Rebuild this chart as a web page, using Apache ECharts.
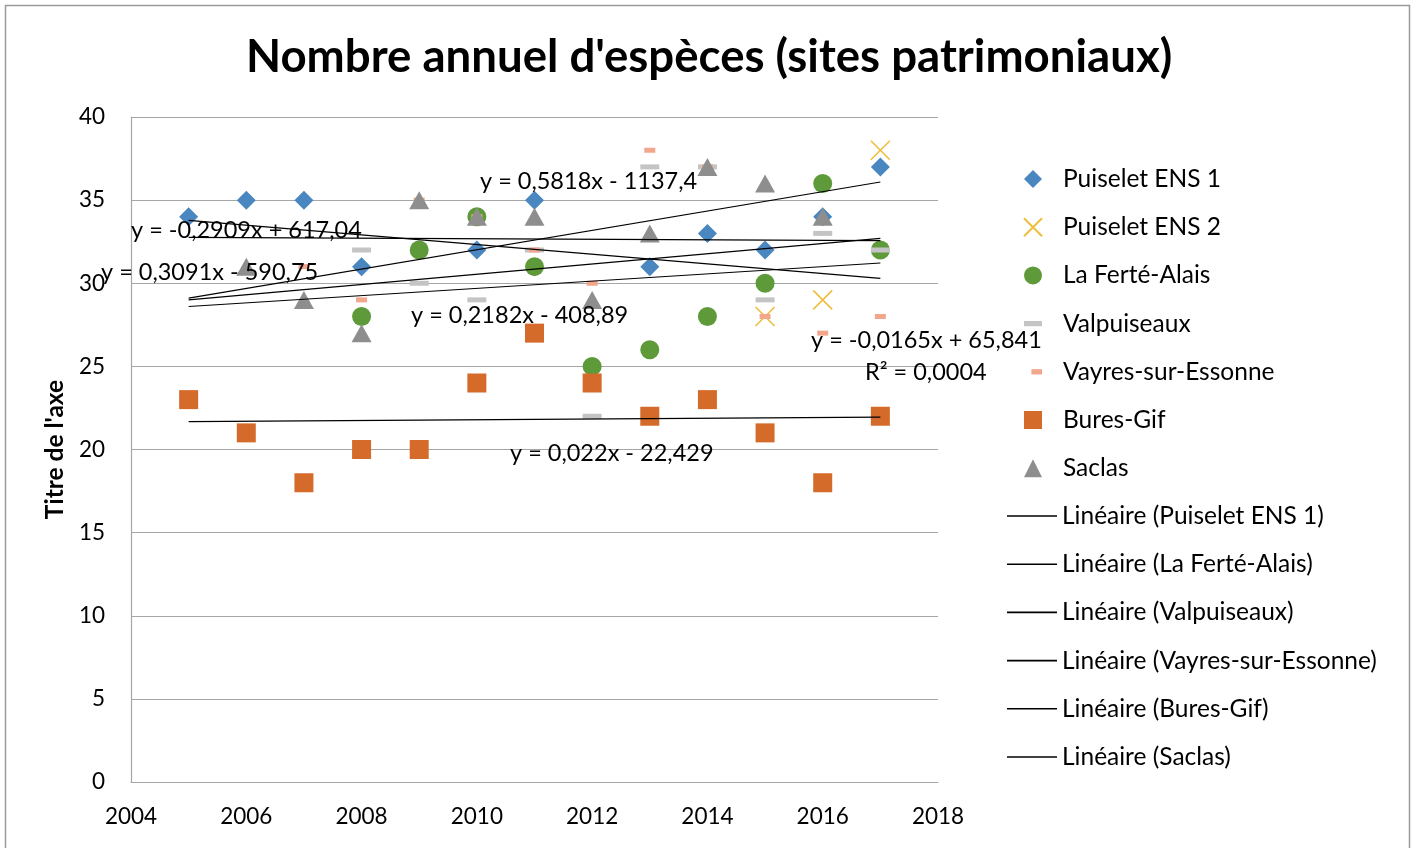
<!DOCTYPE html>
<html>
<head>
<meta charset="utf-8">
<script src="https://cdn.jsdelivr.net/npm/echarts@6/dist/echarts.min.js"></script>
<style>
html,body{margin:0;padding:0;background:#fff;}
#chart{width:1421px;height:848px;}
</style>
</head>
<body>
<div id="chart"></div>
<script>
var years = [2005,2006,2007,2008,2009,2010,2011,2012,2013,2014,2015,2016,2017];
var puiselet1 = [34,35,35,31,null,32,35,null,31,33,32,34,37];
var puiselet2 = [null,null,null,null,null,null,null,null,null,null,28,29,38];
var laFerte = [null,null,null,28,32,34,31,25,26,28,30,36,32];
var valpuiseaux = [null,null,null,32,30,29,32,22,37,37,29,33,32];
var vayres = [null,null,31,29,35,34,32,30,38,37,28,27,28];
var buresGif = [23,21,18,20,20,24,27,24,22,23,21,18,22];
var saclas = [null,31,29,27,35,34,34,29,33,37,36,34,null];

// coefficients des courbes de tendance (pente, ordonnée)
var trendNames = ["Puiselet ENS 1","La Ferté-Alais","Valpuiseaux","Vayres-sur-Essonne","Bures-Gif","Saclas"];
var trendSlope = [-0.0165, 0.2182, 0.3091, -0.2909, 0.022, 0.5818];
var trendIntercept = [65.841, -408.89, -590.75, 617.04, -22.429, -1137.4];
var trendRange = [2005, 2017];

var eqTexts = ["y = 0,5818x - 1137,4","y = -0,2909x + 617,04","y = 0,3091x - 590,75","y = 0,2182x - 408,89","y = -0,0165x + 65,841","R² = 0,0004","y = 0,022x - 22,429"];

function pts(arr){
    var out = [];
    for(var i=0;i<years.length;i++){
        if(arr[i]!=null){ out.push([years[i],arr[i]]); }
    }
    return out;
}

var FONT = "Lato";
var scatterDefs = [
    {name:"Puiselet ENS 1", data:puiselet1, symbol:"diamond", size:19, color:"#4A86C0"},
    {name:"Puiselet ENS 2", data:puiselet2, symbol:"path://M0,0L20,20M20,0L0,20", size:19, color:"#E8AE0C", stroke:true},
    {name:"La Ferté-Alais", data:laFerte, symbol:"circle", size:19, color:"#5E9A3A"},
    {name:"Valpuiseaux", data:valpuiseaux, symbol:"rect", size:[19,5], color:"#C4C4C4"},
    {name:"Vayres-sur-Essonne", data:vayres, symbol:"rect", size:[11,5], color:"#F2A68C"},
    {name:"Bures-Gif", data:buresGif, symbol:"rect", size:19, color:"#D46B2A"},
    {name:"Saclas", data:saclas, symbol:"triangle", size:[20,18], color:"#8E8E8E"}
];
var legendIcons = ["diamond","path://M0,0L20,20M20,0L0,20","circle","path://M0,0H17V5H0Z","path://M0,0M7,0H17V5H7Z","rect","triangle"];

var series = [];
scatterDefs.forEach(function(d){
    var s = {
        name:d.name, type:"scatter", data:pts(d.data),
        symbol:d.symbol, symbolSize:d.size,
        itemStyle:{color:d.color, opacity:1},
        emphasis:{disabled:true}
    };
    if(d.stroke){
        s.itemStyle = {color:"rgba(0,0,0,0)", borderColor:d.color, borderWidth:1.6};
    }
    series.push(s);
});
trendNames.forEach(function(n,i){
    var a = trendRange[0], b = trendRange[1];
    series.push({
        name:"Linéaire ("+n+")", type:"line", symbol:"none",
        data:[[a, trendSlope[i]*a+trendIntercept[i]],[b, trendSlope[i]*b+trendIntercept[i]]],
        lineStyle:{color:"#000", width:1.2},
        itemStyle:{color:"#000"},
        z:3, silent:true
    });
});

var eqPos = [[480,181],[131,230],[101,272],[411,315],[811,340],[865,372],[510,453]];
var graphics = [{
    type:"rect", shape:{x:5.5,y:5.5,width:1404,height:860},
    style:{fill:"none", stroke:"#9a9a9a", lineWidth:1.5}, silent:true
}];
eqTexts.forEach(function(t,i){
    graphics.push({
        type:"text", x:eqPos[i][0], y:eqPos[i][1], z:100,
        style:{text:t, font:"23.5px "+FONT, fill:"#000", verticalAlign:"middle", align:"left"}
    });
});

var chart = echarts.init(document.getElementById("chart"));
var option = {
    animation:false,
    backgroundColor:"#fff",
    title:{
        text:"Nombre annuel d'espèces (sites patrimoniaux)",
        left:241, top:27,
        textStyle:{fontFamily:FONT, fontWeight:"bold", fontSize:45.6, lineHeight:50, color:"#000"}
    },
    grid:{left:131, right:483, top:117, bottom:66},
    xAxis:{
        type:"value", min:2004, max:2018, interval:2,
        splitLine:{show:false},
        axisLine:{lineStyle:{color:"#a6a6a6", width:1.2}},
        axisTick:{show:false},
        axisLabel:{fontFamily:FONT, fontSize:22.5, color:"#000", margin:23, formatter:function(v){return String(v);}}
    },
    yAxis:{
        type:"value", min:0, max:40, interval:5,
        name:"Titre de l'axe", nameLocation:"middle", nameGap:60,
        nameTextStyle:{fontFamily:FONT, fontWeight:"bold", fontSize:24.5, color:"#000"},
        splitLine:{lineStyle:{color:"#a6a6a6", width:1.2}},
        axisLine:{show:true, lineStyle:{color:"#a6a6a6", width:1.2}},
        axisTick:{show:false},
        axisLabel:{fontFamily:FONT, fontSize:22.5, color:"#000", margin:26}
    },
    legend:[{
        orient:"vertical", left:1018, top:161,
        itemWidth:18, itemHeight:18, itemGap:22.2, symbolKeepAspect:true,
        textStyle:{fontFamily:FONT, fontSize:24.5, color:"#000", lineHeight:26, padding:[0,0,0,16]},
        data:scatterDefs.map(function(d,i){ return {name:d.name, icon:legendIcons[i]}; }),
        selectedMode:false
    },{
        orient:"vertical", left:1002, top:498,
        itemWidth:50, itemHeight:18, itemGap:22.2,
        icon:"path://M0,0H50V1.6H0Z",
        textStyle:{fontFamily:FONT, fontSize:24.5, color:"#000", lineHeight:26},
        data:trendNames.map(function(n){ return {name:"Linéaire ("+n+")", itemStyle:{color:"#000"}}; }),
        selectedMode:false
    }],
    graphic:graphics,
    series:series
};
chart.setOption(option);
</script>
</body>
</html>
